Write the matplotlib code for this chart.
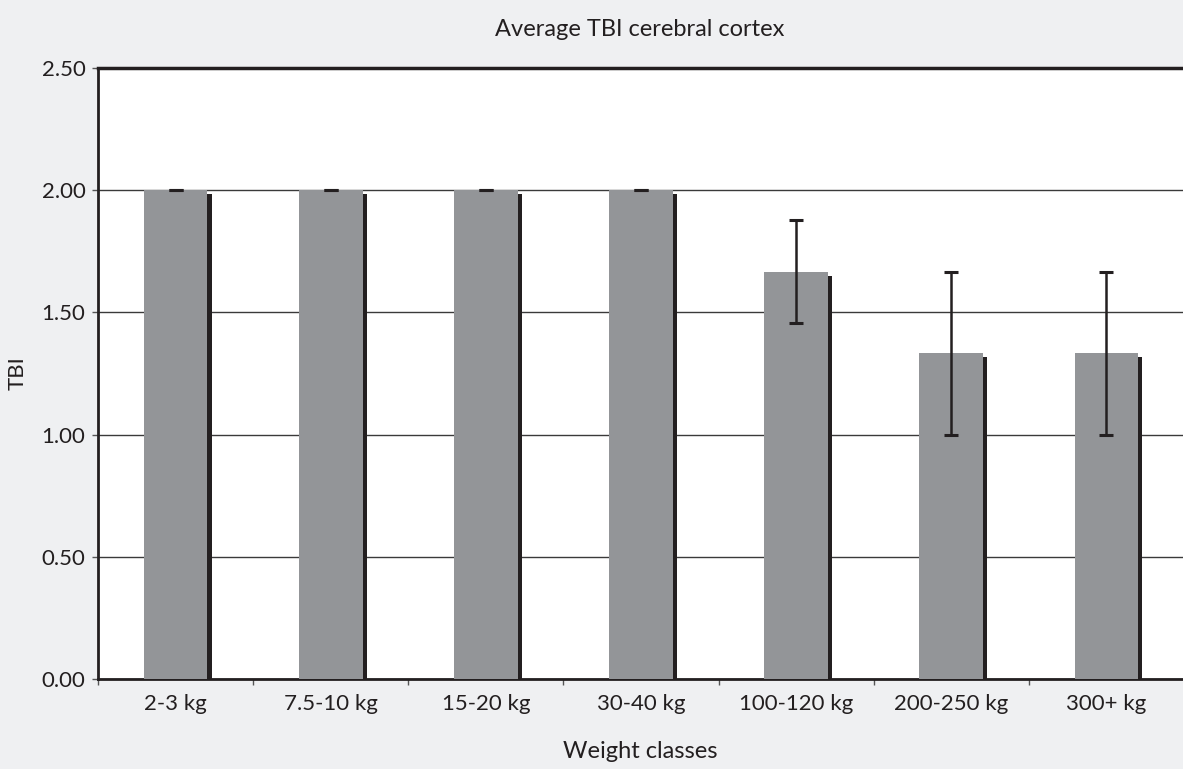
import matplotlib
matplotlib.use("Agg")
import matplotlib.pyplot as plt
import matplotlib.patheffects as pe
import numpy as np

categories = ["2-3 kg", "7.5-10 kg", "15-20 kg", "30-40 kg", "100-120 kg", "200-250 kg", "300+ kg"]
tbi_mean = [2.00, 2.00, 2.00, 2.00, 1.667, 1.333, 1.333]
tbi_err = [0.0, 0.0, 0.0, 0.0, 0.21, 0.333, 0.333]
y_ticks = [0.0, 0.5, 1.0, 1.5, 2.0, 2.5]

plt.rcParams['font.family'] = ['Lato', 'DejaVu Sans']

bg = "#eff0f2"
fig = plt.figure(figsize=(11.83, 7.69), dpi=100, facecolor=bg)
ax = fig.add_axes([98/1183, 1 - 679/769, 1 - 98/1183 + 0.01, (679 - 68)/769])
ax.set_facecolor("white")

x = np.arange(len(categories))
bars = ax.bar(x, tbi_mean, width=0.41, color="#939598", zorder=3)
for b in bars:
    b.set_path_effects([pe.SimplePatchShadow(offset=(3, -3), shadow_rgbFace="#231f20", alpha=1.0), pe.Normal()])

ax.errorbar(x, tbi_mean, yerr=tbi_err, fmt="none", ecolor="#231f20", elinewidth=1.8,
            capsize=5, capthick=2.2, zorder=4)

ax.set_xlim(-0.5, len(categories) - 0.5 + 0.07)
ax.set_ylim(0, 2.5)
ax.set_yticks(y_ticks)
ax.set_yticklabels([f"{v:.2f}" for v in y_ticks], fontsize=16, color="#231f20")
ax.set_xticks(x)
ax.set_xticklabels(categories, fontsize=16, color="#231f20")
ax.set_xticks(np.arange(len(categories) + 1) - 0.5, minor=True)
ax.tick_params(axis="x", which="major", length=0, pad=11)
ax.tick_params(axis="x", which="minor", length=4, width=1, color="#555555", direction="out")
ax.tick_params(axis="y", length=4, width=1, color="#555555", pad=5)

ax.yaxis.grid(True, color="#3a3a3a", linewidth=1.0, zorder=1)
ax.set_axisbelow(True)

for s in ["left", "bottom"]:
    ax.spines[s].set_color("#231f20")
    ax.spines[s].set_linewidth(2.0)
ax.spines["top"].set_color("#231f20")
ax.spines["top"].set_linewidth(2.5)
ax.spines["right"].set_visible(False)

fig.text(640/1183, 1 - 30/769, "Average TBI cerebral cortex", ha="center", va="center",
         fontsize=17, color="#231f20")
fig.text(18/1183, 1 - 373/769, "TBI", ha="center", va="center", rotation=90,
         fontsize=16, color="#231f20")
fig.text(640/1183, 1 - 752/769, "Weight classes", ha="center", va="center",
         fontsize=17, color="#231f20")

fig.savefig("out.png", dpi=100, facecolor=bg)
